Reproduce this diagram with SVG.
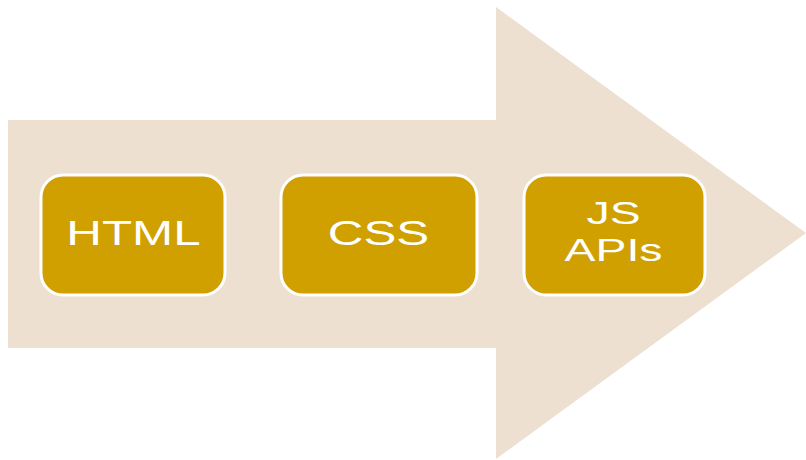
<svg xmlns="http://www.w3.org/2000/svg" width="806" height="460" viewBox="0 0 806 460">
<style>
.box{fill:#D0A000;stroke:#FFFFFF;stroke-width:3}
.lbl{font-family:"Liberation Sans",Arial,sans-serif;fill:#FFFFFF;text-anchor:middle}
</style>
<rect width="806" height="460" fill="#FFFFFF"/>
<g id="arrow">
<polygon points="8,120 496,120 496,7 806,233 496,459 496,348 8,348" fill="#EDE0D0"/>
</g>
<g id="connectors"></g>
<g id="html">
<rect class="box" x="41" y="175" width="184" height="120" rx="22"/>
<text class="lbl" font-size="35" transform="translate(133.5,245) scale(1.41,1)">HTML</text>
</g>
<g id="css">
<rect class="box" x="281" y="175" width="196" height="120" rx="22"/>
<text class="lbl" font-size="35" transform="translate(378.5,245) scale(1.41,1)">CSS</text>
</g>
<g id="jsapis">
<rect class="box" x="524" y="175" width="181" height="120" rx="22"/>
<text class="lbl" font-size="32" transform="translate(613.5,224) scale(1.45,1)">JS</text>
<text class="lbl" font-size="32" transform="translate(613.5,261) scale(1.45,1)">APIs</text>
</g>
</svg>
